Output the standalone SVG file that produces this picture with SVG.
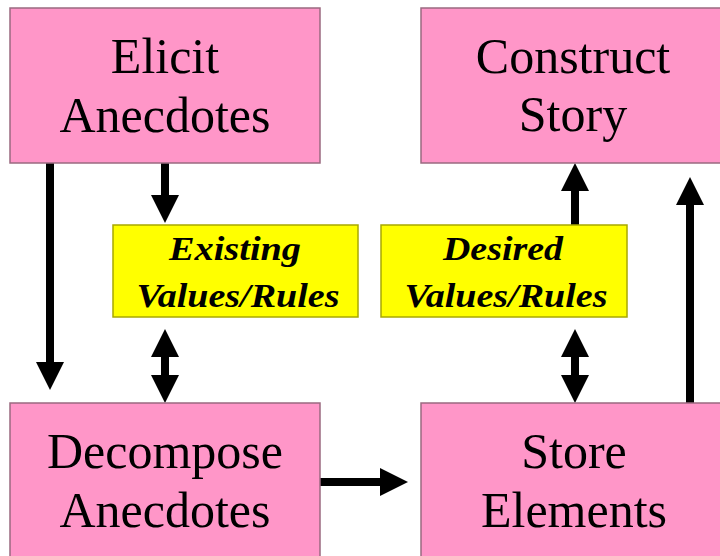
<svg xmlns="http://www.w3.org/2000/svg" width="720" height="556" viewBox="0 0 720 556">
<style>
.proc{fill:#FF96C8;stroke:#9A6A80;stroke-width:1.5}
.rule{fill:#FFFF00;stroke:#A8A800;stroke-width:1.5}
.pt{font-family:"Liberation Serif","Times New Roman",serif;font-size:50px;fill:#000;text-anchor:middle}
.rt{font-family:"Liberation Serif","Times New Roman",serif;font-size:34px;font-weight:bold;font-style:italic;fill:#000;text-anchor:middle}
.con{stroke:#000;stroke-width:8;fill:none}
</style>
<defs>
<marker id="ah" viewBox="0 0 28 28" markerUnits="userSpaceOnUse" markerWidth="28" markerHeight="28" refX="1" refY="14" orient="auto-start-reverse">
<path d="M0,0 L28,14 L0,28 z" fill="#000"/>
</marker>
</defs>
<rect width="720" height="556" fill="#fff"/>
<g id="connectors">
<line class="con" x1="50" y1="163" x2="50" y2="363" marker-end="url(#ah)"/>
<line class="con" x1="165" y1="163" x2="165" y2="196" marker-end="url(#ah)"/>
<line class="con" x1="165" y1="356" x2="165" y2="376" marker-start="url(#ah)" marker-end="url(#ah)"/>
<line class="con" x1="575" y1="225" x2="575" y2="190" marker-end="url(#ah)"/>
<line class="con" x1="690" y1="403" x2="690" y2="204" marker-end="url(#ah)"/>
<line class="con" x1="575" y1="356" x2="575" y2="376" marker-start="url(#ah)" marker-end="url(#ah)"/>
<line class="con" x1="320" y1="482" x2="381" y2="482" marker-end="url(#ah)"/>
</g>
<g id="elicit">
<rect class="proc" x="10" y="8" width="310" height="155"/>
<text class="pt" x="165" y="73">Elicit</text>
<text class="pt" x="165" y="132">Anecdotes</text>
</g>
<g id="construct">
<rect class="proc" x="421" y="8" width="310" height="155"/>
<text class="pt" x="573" y="73">Construct</text>
<text class="pt" x="573" y="131">Story</text>
</g>
<g id="existing">
<rect class="rule" x="113" y="225" width="245" height="92"/>
<text class="rt" x="235" y="260" textLength="132" lengthAdjust="spacingAndGlyphs">Existing</text>
<text class="rt" x="238" y="307" textLength="203" lengthAdjust="spacingAndGlyphs">Values/Rules</text>
</g>
<g id="desired">
<rect class="rule" x="381" y="225" width="246" height="92"/>
<text class="rt" x="503" y="260" textLength="120" lengthAdjust="spacingAndGlyphs">Desired</text>
<text class="rt" x="506" y="307" textLength="203" lengthAdjust="spacingAndGlyphs">Values/Rules</text>
</g>
<g id="decompose">
<rect class="proc" x="10" y="403" width="310" height="160"/>
<text class="pt" x="165" y="468">Decompose</text>
<text class="pt" x="165" y="527">Anecdotes</text>
</g>
<g id="store">
<rect class="proc" x="421" y="403" width="310" height="160"/>
<text class="pt" x="574" y="468">Store</text>
<text class="pt" x="574" y="527">Elements</text>
</g>
</svg>
